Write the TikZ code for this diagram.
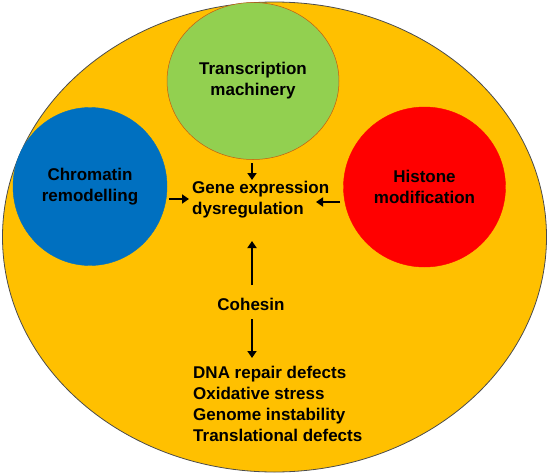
\documentclass[tikz,border=0pt]{standalone}
\usepackage{fontspec}
\setmainfont{Liberation Sans}
\usetikzlibrary{arrows.meta,shapes.geometric}
\definecolor{cellbg}{HTML}{FFC000}
\definecolor{tmgreen}{HTML}{92D050}
\definecolor{crblue}{HTML}{0070C0}
\definecolor{hmred}{HTML}{FF0000}
\definecolor{rimbrown}{HTML}{C55A11}
\tikzset{
  blob/.style={ellipse, inner sep=0pt, align=center, font=\fontsize{17}{21}\selectfont\bfseries},
  lbl/.style={inner sep=0pt, align=left, font=\fontsize{17}{21}\selectfont\bfseries},
  arr/.style={line width=2.2pt, -{Triangle[length=7pt,width=9pt]}}
}

\begin{document}
\begin{tikzpicture}[x=1pt,y=-1pt]
		%%%%% START %%%%%
		\useasboundingbox (0,0) rectangle (549,474);
		
		\draw[fill=cellbg, draw=black!70, line width=0.8pt] (274.5,237) ellipse (272 and 235);
		
		\node[blob, fill=tmgreen, draw=rimbrown, line width=0.5pt, minimum width=172pt, minimum height=157pt] (tm) at (253,81) {Transcription\\machinery};
		\node[blob, fill=crblue, draw=crblue, minimum width=154pt, minimum height=158pt] (cr) at (90,186.5) {Chromatin\\remodelling};
		\node[blob, fill=hmred, draw=hmred, minimum width=162pt, minimum height=160pt] (hm) at (424.5,187) {Histone\\modification};
		
		\node[lbl, anchor=west] (ged) at (192,200) {Gene expression\\dysregulation};
		\node[lbl] (coh) at (251,304.5) {Cohesin};
		\node[lbl, anchor=west] (eff) at (193,404) {DNA repair defects\\Oxidative stress\\Genome instability\\Translational defects};
		
		\coordinate (tmout) at (252,163);
		\coordinate (tmend) at (252,180);
		\coordinate (crout) at (169,199);
		\coordinate (crend) at (189,199);
		\coordinate (hmout) at (340,202);
		\coordinate (hmend) at (316,202);
		\coordinate (cohup) at (252,285);
		\coordinate (gedlow) at (252,241);
		\coordinate (cohdn) at (252,319);
		\coordinate (effup) at (252,358);
		
		\draw[arr] (tmout) -- (tmend);
		\draw[arr] (crout) -- (crend);
		\draw[arr] (hmout) -- (hmend);
		\draw[arr] (cohup) -- (gedlow);
		\draw[arr] (cohdn) -- (effup);
		
		%%%%% END %%%%%
	\end{tikzpicture}
\end{document}
